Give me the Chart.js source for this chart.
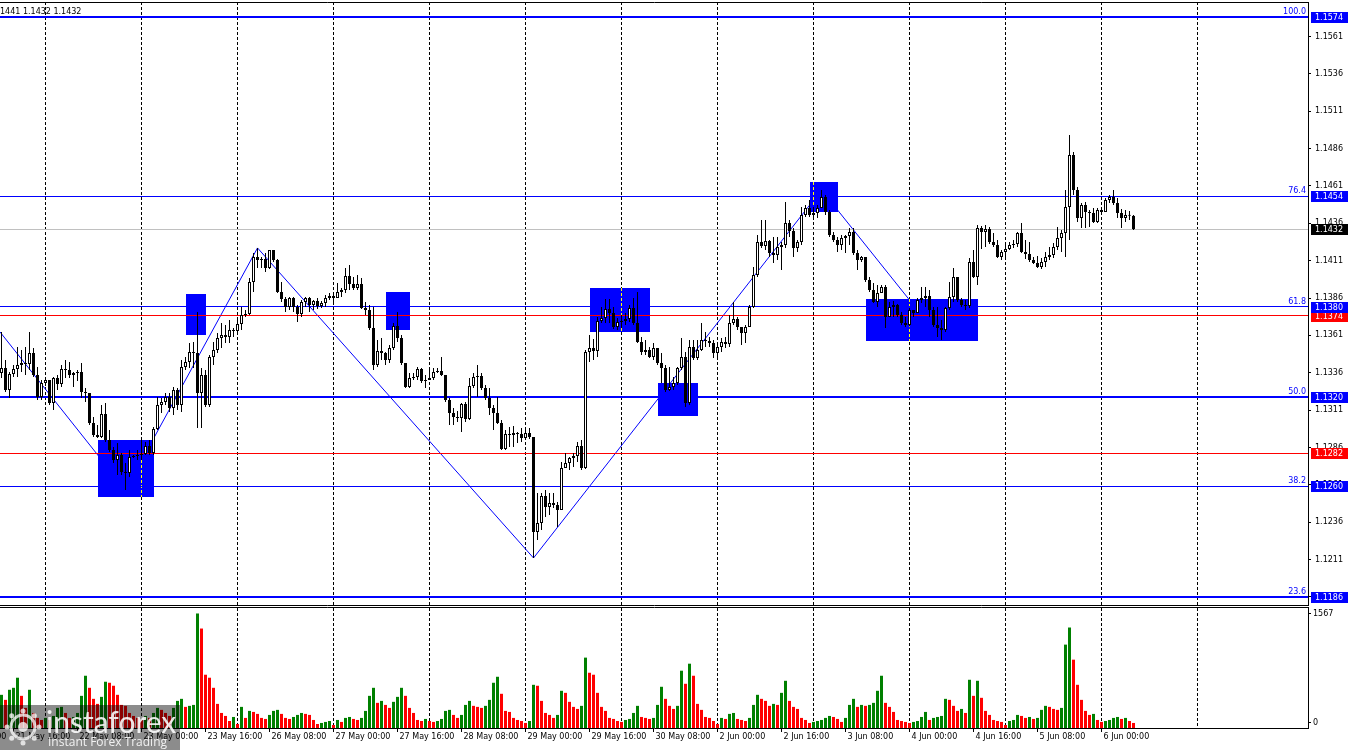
<!DOCTYPE html>
<html><head><meta charset="utf-8">
<script src="https://cdn.jsdelivr.net/npm/chart.js@4.4.1/dist/chart.umd.min.js"></script>
<style>
html,body{margin:0;padding:0;background:#fff;overflow:hidden;}
#wrap{position:relative;width:1350px;height:750px;background:#fff;}
canvas{position:absolute;left:0;}
#cMain{top:0;}
#cVol{top:606px;}
</style></head><body>
<div id="wrap">
<canvas id="cMain" width="1350" height="606"></canvas>
<canvas id="cVol" width="1350" height="144"></canvas>
</div>
<script>
// ---------- DATA (EURUSD H1, bar 0 = 21 May 13:00) ----------
const opens = [
1.13358,1.13392,1.13245,1.13352,1.13385,1.13412,1.13425,1.13418,1.13492,1.13345,
1.13198,1.13291,1.13312,1.13158,1.13325,1.13285,1.13385,1.13378,1.13345,1.13358,
1.13365,1.13231,1.13225,1.13024,1.12944,1.12930,1.13084,1.12910,1.12843,1.12776,
1.12810,1.12696,1.12690,1.12796,1.12803,1.12810,1.12816,1.12870,1.12823,1.12984,
1.13144,1.13164,1.13198,1.13124,1.13245,1.13144,1.13398,1.13432,1.13499,1.13492,
1.13225,1.13345,1.13144,1.13465,1.13512,1.13593,1.13613,1.13599,1.13646,1.13640,
1.13686,1.13746,1.13753,1.13967,1.14134,1.14114,1.14121,1.14061,1.14181,1.14114,
1.13900,1.13853,1.13800,1.13860,1.13800,1.13753,1.13833,1.13860,1.13813,1.13840,
1.13807,1.13827,1.13860,1.13873,1.13860,1.13900,1.13914,1.14007,1.13954,1.13927,
1.13954,1.13793,1.13780,1.13659,1.13412,1.13505,1.13492,1.13445,1.13526,1.13673,
1.13593,1.13425,1.13265,1.13325,1.13332,1.13385,1.13305,1.13312,1.13325,1.13365,
1.13372,1.13345,1.13178,1.13091,1.13064,1.13057,1.13151,1.13051,1.13271,1.13332,
1.13338,1.13258,1.13191,1.13124,1.13091,1.13024,1.12850,1.12950,1.12944,1.12957,
1.12950,1.12923,1.12957,1.12930,1.12295,1.12355,1.12536,1.12462,1.12489,1.12475,
1.12442,1.12723,1.12756,1.12790,1.12803,1.12870,1.12723,1.13499,1.13526,1.13505,
1.13706,1.13726,1.13787,1.13760,1.13666,1.13700,1.13706,1.13720,1.13793,1.13693,
1.13566,1.13499,1.13512,1.13465,1.13526,1.13425,1.13392,1.13245,1.13265,1.13291,
1.13392,1.13465,1.13158,1.13532,1.13459,1.13512,1.13579,1.13572,1.13559,1.13492,
1.13532,1.13566,1.13552,1.13693,1.13720,1.13666,1.13626,1.13666,1.13800,1.14014,
1.14235,1.14208,1.14241,1.14161,1.14148,1.14201,1.14215,1.14362,1.14308,1.14195,
1.14235,1.14415,1.14462,1.14415,1.14429,1.14462,1.14536,1.14435,1.14282,1.14248,
1.14215,1.14262,1.14275,1.14302,1.14161,1.14114,1.14134,1.13981,1.13914,1.13833,
1.13894,1.13934,1.13733,1.13800,1.13813,1.13746,1.13693,1.13679,1.13780,1.13760,
1.13847,1.13860,1.13873,1.13780,1.13679,1.13659,1.13646,1.13793,1.13867,1.14001,
1.13847,1.13813,1.13807,1.14101,1.14001,1.14328,1.14302,1.14322,1.14235,1.14215,
1.14134,1.14168,1.14188,1.14215,1.14221,1.14295,1.14168,1.14154,1.14114,1.14094,
1.14068,1.14101,1.14134,1.14148,1.14201,1.14262,1.14295,1.14469,1.14817,1.14583,
1.14395,1.14482,1.14435,1.14429,1.14369,1.14449,1.14435,1.14516,1.14536,1.14496,
1.14429,1.14395,1.14415,1.14410];
const highs = [
1.13633,1.13445,1.13365,1.13412,1.13532,1.13512,1.13532,1.13633,1.13526,1.13398,
1.13312,1.13332,1.13312,1.13332,1.13345,1.13412,1.13445,1.13432,1.13365,1.13378,
1.13425,1.13258,1.13225,1.13064,1.13010,1.13144,1.13158,1.12977,1.12863,1.12890,
1.12823,1.12756,1.12843,1.12810,1.12843,1.12910,1.12897,1.12910,1.12997,1.13198,
1.13191,1.13225,1.13225,1.13265,1.13258,1.13445,1.13465,1.13559,1.13566,1.13766,
1.13392,1.13378,1.13479,1.13566,1.13626,1.13693,1.13679,1.13713,1.13659,1.13713,
1.13800,1.13780,1.13994,1.14161,1.14195,1.14134,1.14161,1.14181,1.14181,1.14121,
1.13967,1.13867,1.13867,1.13867,1.13813,1.13847,1.13867,1.13867,1.13847,1.13860,
1.13840,1.13880,1.13894,1.13880,1.13960,1.13927,1.14061,1.14081,1.14001,1.14014,
1.13994,1.13833,1.13813,1.13800,1.13579,1.13593,1.13499,1.13546,1.13693,1.13766,
1.13613,1.13425,1.13358,1.13358,1.13398,1.13392,1.13345,1.13392,1.13392,1.13392,
1.13465,1.13345,1.13191,1.13124,1.13104,1.13158,1.13164,1.13325,1.13358,1.13412,
1.13358,1.13278,1.13258,1.13144,1.13198,1.13044,1.12977,1.12997,1.13004,1.12964,
1.12990,1.12977,1.12990,1.12930,1.12556,1.12556,1.12576,1.12556,1.12556,1.12495,
1.12763,1.12823,1.12796,1.12823,1.12897,1.12910,1.13512,1.13613,1.13586,1.13733,
1.13800,1.13853,1.13853,1.13800,1.13726,1.13746,1.13760,1.13813,1.13860,1.13900,
1.13599,1.13579,1.13532,1.13559,1.13526,1.13492,1.13412,1.13398,1.13332,1.13398,
1.13593,1.13499,1.13579,1.13579,1.13579,1.13693,1.13633,1.13599,1.13579,1.13566,
1.13593,1.13599,1.13746,1.13833,1.13733,1.13666,1.13679,1.13813,1.14068,1.14282,
1.14382,1.14382,1.14248,1.14268,1.14268,1.14235,1.14502,1.14382,1.14328,1.14248,
1.14469,1.14482,1.14516,1.14469,1.14482,1.14583,1.14549,1.14449,1.14302,1.14268,
1.14282,1.14282,1.14328,1.14328,1.14181,1.14141,1.14134,1.14001,1.13960,1.13947,
1.13947,1.13947,1.13833,1.13840,1.13820,1.13766,1.13733,1.13793,1.13780,1.13860,
1.13934,1.13934,1.13914,1.13800,1.13800,1.13713,1.13800,1.13967,1.14061,1.14001,
1.13860,1.13847,1.14128,1.14181,1.14348,1.14342,1.14348,1.14335,1.14295,1.14248,
1.14181,1.14215,1.14235,1.14248,1.14302,1.14362,1.14248,1.14235,1.14134,1.14141,
1.14128,1.14168,1.14201,1.14228,1.14335,1.14315,1.14583,1.14951,1.14837,1.14603,
1.14496,1.14502,1.14449,1.14462,1.14462,1.14469,1.14529,1.14549,1.14583,1.14529,
1.14456,1.14449,1.14442,1.14415];
const lows = [
1.13325,1.13231,1.13191,1.13332,1.13332,1.13365,1.13345,1.13378,1.13332,1.13178,
1.13178,1.13271,1.13144,1.13111,1.13245,1.13265,1.13325,1.13325,1.13265,1.13305,
1.13191,1.13164,1.13010,1.12930,1.12923,1.12923,1.12897,1.12830,1.12756,1.12676,
1.12676,1.12576,1.12663,1.12790,1.12776,1.12776,1.12810,1.12810,1.12810,1.12977,
1.13091,1.13144,1.13097,1.13077,1.13111,1.13097,1.13378,1.13392,1.13392,1.12990,
1.12990,1.13131,1.13131,1.13412,1.13492,1.13526,1.13559,1.13559,1.13599,1.13613,
1.13646,1.13733,1.13746,1.13900,1.14061,1.14061,1.14034,1.14054,1.14101,1.13894,
1.13833,1.13766,1.13780,1.13766,1.13700,1.13733,1.13800,1.13766,1.13780,1.13787,
1.13793,1.13800,1.13847,1.13833,1.13860,1.13867,1.13894,1.13914,1.13914,1.13914,
1.13786,1.13746,1.13646,1.13378,1.13398,1.13445,1.13412,1.13425,1.13512,1.13566,
1.13412,1.13258,1.13258,1.13312,1.13312,1.13291,1.13258,1.13312,1.13312,1.13358,
1.13338,1.13164,1.13010,1.13010,1.13031,1.12964,1.13031,1.13044,1.13258,1.13198,
1.13245,1.13178,1.13077,1.12977,1.13017,1.12843,1.12843,1.12863,1.12863,1.12890,
1.12897,1.12923,1.12917,1.12121,1.12241,1.12308,1.12395,1.12408,1.12455,1.12328,
1.12442,1.12723,1.12709,1.12730,1.12763,1.12709,1.12716,1.13432,1.13445,1.13465,
1.13693,1.13693,1.13693,1.13653,1.13646,1.13659,1.13679,1.13700,1.13679,1.13559,
1.13479,1.13479,1.13459,1.13445,1.13412,1.13291,1.13231,1.13238,1.13245,1.13278,
1.13378,1.13131,1.13144,1.13445,1.13445,1.13505,1.13532,1.13532,1.13459,1.13459,
1.13499,1.13526,1.13532,1.13679,1.13646,1.13546,1.13559,1.13666,1.13793,1.14001,
1.14195,1.14181,1.14134,1.14094,1.14114,1.14047,1.14195,1.14268,1.14134,1.14168,
1.14215,1.14402,1.14402,1.14395,1.14395,1.14462,1.14415,1.14268,1.14235,1.14168,
1.14181,1.14161,1.14215,1.14148,1.14047,1.14101,1.13967,1.13900,1.13827,1.13800,
1.13894,1.13659,1.13733,1.13733,1.13733,1.13679,1.13666,1.13672,1.13733,1.13760,
1.13827,1.13800,1.13733,1.13666,1.13600,1.13579,1.13633,1.13780,1.13833,1.13833,
1.13800,1.13780,1.13793,1.13994,1.13947,1.14188,1.14201,1.14221,1.14201,1.14128,
1.14114,1.14134,1.14181,1.14195,1.14201,1.14161,1.14121,1.14101,1.14088,1.14061,
1.14054,1.14068,1.14114,1.14128,1.14181,1.14168,1.14134,1.14248,1.14549,1.14369,
1.14328,1.14328,1.14335,1.14362,1.14362,1.14422,1.14435,1.14496,1.14482,1.14395,
1.14328,1.14369,1.14382,1.14315];
const closes = [
1.13392,1.13245,1.13352,1.13385,1.13412,1.13425,1.13418,1.13492,1.13345,1.13198,
1.13291,1.13312,1.13158,1.13325,1.13285,1.13385,1.13378,1.13345,1.13358,1.13365,
1.13231,1.13225,1.13024,1.12944,1.12930,1.13084,1.12910,1.12843,1.12776,1.12810,
1.12696,1.12690,1.12796,1.12803,1.12810,1.12816,1.12870,1.12823,1.12984,1.13144,
1.13164,1.13198,1.13124,1.13245,1.13144,1.13398,1.13432,1.13499,1.13492,1.13225,
1.13345,1.13144,1.13465,1.13512,1.13593,1.13613,1.13599,1.13646,1.13640,1.13686,
1.13746,1.13753,1.13967,1.14134,1.14114,1.14121,1.14061,1.14181,1.14114,1.13900,
1.13853,1.13800,1.13860,1.13800,1.13753,1.13833,1.13860,1.13813,1.13840,1.13807,
1.13827,1.13860,1.13873,1.13860,1.13900,1.13914,1.14007,1.13954,1.13927,1.13954,
1.13793,1.13780,1.13659,1.13412,1.13505,1.13492,1.13445,1.13526,1.13673,1.13593,
1.13425,1.13265,1.13325,1.13332,1.13385,1.13305,1.13312,1.13325,1.13365,1.13372,
1.13345,1.13178,1.13091,1.13064,1.13057,1.13151,1.13051,1.13271,1.13332,1.13338,
1.13258,1.13191,1.13124,1.13091,1.13024,1.12850,1.12950,1.12944,1.12957,1.12950,
1.12923,1.12957,1.12930,1.12295,1.12355,1.12536,1.12462,1.12489,1.12475,1.12442,
1.12723,1.12756,1.12790,1.12803,1.12870,1.12723,1.13499,1.13526,1.13505,1.13706,
1.13726,1.13787,1.13760,1.13666,1.13700,1.13706,1.13720,1.13793,1.13693,1.13566,
1.13499,1.13512,1.13465,1.13526,1.13425,1.13392,1.13245,1.13265,1.13291,1.13392,
1.13465,1.13158,1.13532,1.13459,1.13512,1.13579,1.13572,1.13559,1.13492,1.13532,
1.13566,1.13552,1.13693,1.13720,1.13666,1.13626,1.13666,1.13800,1.14014,1.14235,
1.14208,1.14241,1.14161,1.14148,1.14201,1.14215,1.14362,1.14308,1.14195,1.14235,
1.14415,1.14462,1.14415,1.14429,1.14462,1.14536,1.14435,1.14282,1.14248,1.14215,
1.14262,1.14275,1.14302,1.14161,1.14114,1.14134,1.13981,1.13914,1.13833,1.13894,
1.13934,1.13733,1.13800,1.13813,1.13746,1.13693,1.13679,1.13780,1.13760,1.13847,
1.13860,1.13873,1.13780,1.13679,1.13659,1.13646,1.13793,1.13867,1.14001,1.13847,
1.13813,1.13807,1.14101,1.14001,1.14328,1.14302,1.14322,1.14235,1.14215,1.14134,
1.14168,1.14188,1.14215,1.14221,1.14295,1.14168,1.14154,1.14114,1.14094,1.14068,
1.14101,1.14134,1.14148,1.14201,1.14262,1.14295,1.14469,1.14817,1.14583,1.14395,
1.14482,1.14435,1.14429,1.14369,1.14449,1.14435,1.14516,1.14536,1.14496,1.14429,
1.14395,1.14415,1.14410,1.14320];
const volumes = [
454,385,523,550,688,440,275,523,206,138,
110,138,110,165,275,289,206,138,151,206,
440,715,550,399,330,426,633,619,578,454,
316,303,206,165,138,110,165,138,206,275,
248,206,165,275,371,399,289,303,316,1567,
1361,729,688,550,330,206,165,96,151,55,
289,138,234,220,193,138,124,179,234,248,
193,138,124,151,179,206,193,179,110,55,
69,83,96,41,110,83,138,151,124,110,
138,234,440,550,344,371,316,275,358,426,
550,440,275,206,110,96,124,96,83,96,
124,234,248,179,138,179,316,371,303,289,
275,303,385,619,701,468,234,220,138,110,
96,69,96,591,578,371,206,179,138,179,
509,481,358,289,261,303,963,756,729,481,
289,234,138,124,96,83,110,124,206,303,
151,138,124,138,316,564,399,303,261,303,
784,605,880,715,330,248,151,138,96,55,
138,124,193,206,124,110,96,138,316,454,
399,371,303,330,316,481,646,371,289,261,
138,110,69,83,96,110,138,165,151,124,
83,138,316,399,289,316,303,316,344,509,
715,344,289,220,110,96,83,69,83,96,
151,220,110,138,151,165,399,385,303,234,
261,206,660,440,646,413,234,179,110,96,
83,41,96,110,179,165,138,151,124,138,
248,303,289,261,248,275,1141,1375,935,591,
385,234,179,193,110,83,96,110,138,151,
124,138,96,69];

const priceTicks = [1.1186,1.1211,1.1236,1.1261,1.1286,1.1311,1.1336,1.1361,1.1386,1.1411,1.1436,1.1461,1.1486,1.1511,1.1536,1.1561];
const timeLabelIdx = [-13,3,19,35,51,67,83,99,115,131,147,163,179,195,211,227,243,259,275];
const timeLabels = ['21 May 00:00','21 May 16:00','22 May 08:00','23 May 00:00','23 May 16:00','26 May 08:00','27 May 00:00','27 May 16:00','28 May 08:00','29 May 00:00','29 May 16:00','30 May 08:00','2 Jun 00:00','2 Jun 16:00','3 Jun 08:00','4 Jun 00:00','4 Jun 16:00','5 Jun 08:00','6 Jun 00:00'];
const dayStartIdx = [11,35,59,83,107,131,155,179,203,227,251,275,299];

const fibLevels = [1.1574,1.1454,1.1380,1.1320,1.1260,1.1186];
const fibNames = ['100.0','76.4','61.8','50.0','38.2','23.6'];
const redLevels = [1.1374,1.1282];
const bidLevel = 1.1432;

const zigzagIdx = [0,31,64,133,205,235];
const zigzagVal = [1.13633,1.12576,1.14195,1.12121,1.14583,1.13579];

const boxFrom = [24,46,96,147,164,202,216];
const boxTo   = [38,51,102,162,174,209,244];
const boxHigh = [1.1291,1.1389,1.1390,1.13927,1.13291,1.14636,1.13853];
const boxLow  = [1.1253,1.1361,1.13646,1.13633,1.13071,1.14435,1.13573];

const headerText = '1441 1.1432 1.1432';
const volTopLabel = 1567;

// ---------- STYLE / LAYOUT ----------
const FONT = '8px "DejaVu Sans", sans-serif';
const X_MIN = -0.375, X_MAX = 326.625;
const Y_MIN = 1.1180648, Y_MAX = 1.1584034;
const VOL_MAX = 1642;
const fibWidths = [2,1,1,2,1,2];
const BLUE = '#0000ff', RED = '#ff0000', GREEN = '#008000';

const idx = closes.map((_, i) => i);
const wickData = idx.map(i => ({x: i, y: [lows[i], highs[i]]}));
const bodyData = idx.map(i => ({x: i, y: [opens[i], closes[i]]}));
const volData = idx.map(i => ({x: i, y: volumes[i]}));

function hpx(p){ return Math.floor(p) + 0.5; }

const mainDeco = {
  id: 'mainDeco',
  beforeDatasetsDraw(chart) {
    const {ctx, chartArea: a} = chart;
    const xs = chart.scales.x, ys = chart.scales.y;
    ctx.save();
    ctx.beginPath(); ctx.rect(a.left, a.top, a.right - a.left, a.bottom - a.top); ctx.clip();
    // day separators
    ctx.lineWidth = 1; ctx.strokeStyle = '#000'; ctx.setLineDash([3, 2]);
    dayStartIdx.forEach(i => {
      const px = hpx(xs.getPixelForValue(i));
      ctx.beginPath(); ctx.moveTo(px, a.top); ctx.lineTo(px, a.bottom); ctx.stroke();
    });
    ctx.setLineDash([]);
    // zigzag
    ctx.strokeStyle = BLUE; ctx.lineWidth = 1;
    ctx.beginPath();
    zigzagIdx.forEach((i, k) => {
      const px = xs.getPixelForValue(i), py = ys.getPixelForValue(zigzagVal[k]);
      if (k === 0) ctx.moveTo(0, py); else ctx.lineTo(px, py);
    });
    ctx.stroke();
    // boxes
    boxFrom.forEach((f, k) => {
      const x1 = Math.round(xs.getPixelForValue(f)), x2 = Math.round(xs.getPixelForValue(boxTo[k]));
      const y1 = Math.round(ys.getPixelForValue(boxHigh[k])), y2 = Math.round(ys.getPixelForValue(boxLow[k]));
      ctx.fillStyle = BLUE;
      ctx.fillRect(x1, y1, x2 - x1, y2 - y1);
      ctx.strokeStyle = '#ffff00'; ctx.setLineDash([3, 2]);
      dayStartIdx.forEach(i => {
        const px = hpx(xs.getPixelForValue(i));
        if (px > x1 && px < x2) { ctx.beginPath(); ctx.moveTo(px, y1); ctx.lineTo(px, y2); ctx.stroke(); }
      });
      ctx.setLineDash([]);
    });
    // horizontal levels
    const hline = (v, color, w) => {
      const py = ys.getPixelForValue(v);
      const yy = (w % 2) ? hpx(py) : Math.round(py);
      ctx.strokeStyle = color; ctx.lineWidth = w;
      ctx.beginPath(); ctx.moveTo(a.left, yy); ctx.lineTo(a.right, yy); ctx.stroke();
    };
    hline(bidLevel, '#c0c0c0', 1);
    redLevels.forEach(v => hline(v, RED, 1));
    fibLevels.forEach((v, k) => hline(v, BLUE, fibWidths[k]));
    ctx.font = FONT; ctx.fillStyle = BLUE; ctx.textAlign = 'right'; ctx.textBaseline = 'alphabetic';
    fibLevels.forEach((v, k) => ctx.fillText(fibNames[k], 1306, Math.round(ys.getPixelForValue(v)) - 3));
    ctx.restore();
  },
  afterDraw(chart) {
    const {ctx, chartArea: a} = chart;
    const ys = chart.scales.y;
    ctx.save();
    // frame lines
    ctx.strokeStyle = '#000'; ctx.lineWidth = 1;
    ctx.beginPath(); ctx.moveTo(0, 2.5); ctx.lineTo(a.right + 1, 2.5); ctx.stroke();
    ctx.beginPath(); ctx.moveTo(0, 605.5); ctx.lineTo(a.right + 1, 605.5); ctx.stroke();
    // header
    ctx.font = FONT; ctx.fillStyle = '#000'; ctx.textAlign = 'left'; ctx.textBaseline = 'alphabetic';
    ctx.fillText(headerText, 0, 14);
    // price tags on the axis
    const tag = (v, bg) => {
      const py = Math.round(ys.getPixelForValue(v));
      ctx.fillStyle = bg; ctx.fillRect(a.right + 3, py - 5, 37, 11);
      ctx.fillStyle = '#fff'; ctx.textBaseline = 'middle'; ctx.textAlign = 'left';
      ctx.fillText(v.toFixed(4), a.right + 7, py + 0.5);
    };
    tag(bidLevel, '#000');
    redLevels.forEach(v => tag(v, RED));
    fibLevels.forEach(v => tag(v, BLUE));
    ctx.restore();
  }
};

new Chart(document.getElementById('cMain'), {
  type: 'bar',
  data: { datasets: [
    { data: wickData, barThickness: 1, backgroundColor: '#000', borderWidth: 0, grouped: false, inflateAmount: 0, order: 2 },
    { data: bodyData, barThickness: 3, grouped: false, inflateAmount: 0, order: 1,
      backgroundColor: c => (c.dataIndex !== undefined && closes[c.dataIndex] >= opens[c.dataIndex]) ? '#ffffff' : '#000000',
      borderColor: '#000', borderWidth: 1, borderSkipped: false, minBarLength: 1 }
  ]},
  options: {
    responsive: false, animation: false, devicePixelRatio: 1, events: [],
    layout: { padding: { left: 0, right: 0, top: 2, bottom: 1 } },
    plugins: { legend: { display: false }, tooltip: { enabled: false } },
    scales: {
      x: { type: 'linear', min: X_MIN, max: X_MAX, display: false, offset: false },
      y: { position: 'right', min: Y_MIN, max: Y_MAX,
        afterBuildTicks: s => { s.ticks = priceTicks.map(v => ({ value: v })); },
        afterFit: s => { s.width = 42; s.paddingTop = 0; s.paddingBottom = 0; },
        ticks: { font: { family: '"DejaVu Sans", sans-serif', size: 8 }, color: '#000', padding: 4, autoSkip: false,
          callback: v => Number(v).toFixed(4) },
        grid: { drawOnChartArea: false, drawTicks: true, tickLength: 3, tickColor: '#000' },
        border: { display: true, color: '#000', width: 1 } }
    }
  },
  plugins: [mainDeco]
});

const volDeco = {
  id: 'volDeco',
  beforeDatasetsDraw(chart) {
    const {ctx, chartArea: a} = chart;
    const xs = chart.scales.x;
    ctx.save();
    ctx.lineWidth = 1; ctx.strokeStyle = '#000'; ctx.setLineDash([3, 2]);
    dayStartIdx.forEach(i => {
      const px = hpx(xs.getPixelForValue(i));
      ctx.beginPath(); ctx.moveTo(px, a.top); ctx.lineTo(px, a.bottom); ctx.stroke();
    });
    ctx.restore();
  },
  afterDraw(chart) {
    const {ctx, chartArea: a} = chart;
    const xs = chart.scales.x, ys = chart.scales.y;
    ctx.save();
    ctx.strokeStyle = '#000'; ctx.lineWidth = 1;
    ctx.beginPath(); ctx.moveTo(0, 1.5); ctx.lineTo(a.right + 1, 1.5); ctx.stroke();
    ctx.beginPath(); ctx.moveTo(0, a.bottom + 0.5); ctx.lineTo(a.right + 1, a.bottom + 0.5); ctx.stroke();
    ctx.beginPath(); ctx.moveTo(a.right + 0.5, 1.5); ctx.lineTo(a.right + 0.5, a.bottom + 0.5); ctx.stroke();
    // right axis labels
    ctx.font = FONT; ctx.fillStyle = '#000'; ctx.textAlign = 'left'; ctx.textBaseline = 'middle';
    const yTop = Math.round(ys.getPixelForValue(volTopLabel));
    ctx.beginPath(); ctx.moveTo(a.right, yTop + 0.5); ctx.lineTo(a.right + 3, yTop + 0.5); ctx.stroke();
    ctx.fillText(String(volTopLabel), a.right + 5, yTop + 1);
    ctx.beginPath(); ctx.moveTo(a.right, a.bottom - 5.5); ctx.lineTo(a.right + 3, a.bottom - 5.5); ctx.stroke();
    ctx.fillText('0', a.right + 5, a.bottom - 5);
    // time axis
    timeLabelIdx.forEach((i, k) => {
      const px = hpx(xs.getPixelForValue(i));
      ctx.beginPath(); ctx.moveTo(px, a.bottom + 1); ctx.lineTo(px, a.bottom + 4); ctx.stroke();
      ctx.fillText(timeLabels[k], px + 2, a.bottom + 9);
    });
    // watermark
    ctx.fillStyle = 'rgba(0,0,0,0.45)';
    ctx.fillRect(0, 99, 180, 45);
    ctx.strokeStyle = 'rgba(255,255,255,0.75)'; ctx.lineWidth = 3;
    ctx.beginPath(); ctx.arc(23, 121, 12, 0, Math.PI * 2); ctx.stroke();
    ctx.fillStyle = 'rgba(255,255,255,0.75)';
    for (let t = 0; t < 8; t++) {
      const ang = t * Math.PI / 4;
      ctx.beginPath(); ctx.arc(23 + Math.cos(ang) * 16, 121 + Math.sin(ang) * 16, 2.5, 0, Math.PI * 2); ctx.fill();
    }
    ctx.beginPath(); ctx.arc(23, 121, 5, 0, Math.PI * 2); ctx.fill();
    ctx.fillStyle = 'rgba(255,255,255,0.88)';
    ctx.textBaseline = 'alphabetic';
    ctx.font = '30px Lato, "Open Sans", sans-serif';
    ctx.fillText('instaforex', 46, 127);
    ctx.font = '12px "Open Sans", sans-serif';
    ctx.fillText('Instant Forex Trading', 48, 140);
    ctx.restore();
  }
};

new Chart(document.getElementById('cVol'), {
  type: 'bar',
  data: { datasets: [
    { data: volData, barThickness: 3, grouped: false, inflateAmount: 0, borderWidth: 0,
      backgroundColor: c => {
        const i = c.dataIndex;
        if (i === undefined) return GREEN;
        return (i === 0 || volumes[i] > volumes[i - 1]) ? GREEN : RED;
      } }
  ]},
  options: {
    responsive: false, animation: false, devicePixelRatio: 1, events: [],
    layout: { padding: { left: 0, right: 42, top: 2, bottom: 22 } },
    plugins: { legend: { display: false }, tooltip: { enabled: false } },
    scales: {
      x: { type: 'linear', min: X_MIN, max: X_MAX, display: false, offset: false },
      y: { min: 0, max: VOL_MAX, display: false }
    }
  },
  plugins: [volDeco]
});
</script>
</body></html>
